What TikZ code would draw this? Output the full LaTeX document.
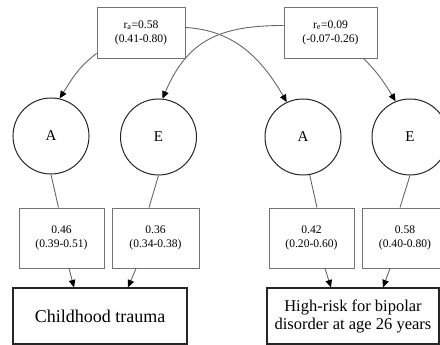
\documentclass[tikz,border=0pt]{standalone}
\usepackage{fontspec}
\setmainfont{Liberation Serif}
\usetikzlibrary{arrows.meta}

\begin{document}
\begin{tikzpicture}[x=1pt,y=1pt,>={Triangle[length=7.5pt,width=6.5pt,black]}]
  \tikzset{FactorStyle/.style = {circle, draw = black!85, line width = 1pt,
                                 minimum size = 76pt, inner sep = 0pt,
                                 font = \fontsize{15}{17}\selectfont}}
  \tikzset{LoadStyle/.style = {rectangle, draw = black!55, line width = 0.9pt,
                               minimum width = 86pt, minimum height = 60pt,
                               align = center,
                               font = \fontsize{11.6}{14}\selectfont}}
  \tikzset{CorrStyle/.style = {LoadStyle, minimum height = 51pt}}
  \tikzset{TraitStyle/.style = {rectangle, draw = black!85, line width = 1.1pt,
                                minimum height = 56pt, align = center,
                                font = \fontsize{16.5}{18}\selectfont}}
  \tikzset{EdgeStyle/.style = {draw = black!60, line width = 0.9pt}}
  \clip (0,0) rectangle (440,345);

  % correlations
  \node[CorrStyle, minimum width = 88pt] (ra) at (141,312.5)
       {r\textsubscript{a}=0.58\\(0.41-0.80)};
  \node[CorrStyle, minimum width = 93pt] (re) at (330.5,312.5)
       {r\textsubscript{e}=0.09\\(-0.07-0.26)};

  % latent factors
  \node[FactorStyle] (A1) at (51,209)    {A};
  \node[FactorStyle] (E1) at (158.5,208) {E};
  \node[FactorStyle] (A2) at (303,208)   {A};
  \node[FactorStyle] (E2) at (410,208)   {E};

  % path estimates
  \node[LoadStyle, minimum width = 85pt] (p1) at (61.5,107)  {0.46\\(0.39-0.51)};
  \node[LoadStyle, minimum width = 87pt] (p2) at (155.5,107) {0.36\\(0.34-0.38)};
  \node[LoadStyle, minimum width = 85pt] (p3) at (311.5,107) {0.42\\(0.20-0.60)};
  \node[LoadStyle, minimum width = 86pt] (p4) at (405,107)   {0.58\\(0.40-0.80)};

  % observed traits
  \node[TraitStyle, minimum width = 174pt, font = \fontsize{18}{20}\selectfont]
       (CT) at (100,29) {Childhood trauma};
  \node[TraitStyle, minimum width = 172pt] (HR) at (353,29)
       {High-risk for bipolar\\disorder at age 26 years};

  \draw[EdgeStyle,->] ([yshift=5pt]ra.south west) to[out=217,in=58] (A1.77);
  \draw[EdgeStyle,->] ([yshift=5pt]ra.east) to[out=-3,in=120] (A2.115);
  \draw[EdgeStyle,->] ([yshift=7pt]re.west) to[out=180,in=67,looseness=1.15] (E1.84);
  \draw[EdgeStyle,->] ([xshift=33pt]re.south) to[out=-45,in=121] (E2.112);

  \draw[EdgeStyle] (A1.south) -- ([xshift=-3pt]p1.north);
  \draw[EdgeStyle] (E1.south) -- ([xshift=-6.5pt]p2.north);
  \draw[EdgeStyle] (A2.-80)   -- ([xshift=5.5pt]p3.north);
  \draw[EdgeStyle] (E2.south) -- ([xshift=-5pt]p4.north);

  \draw[EdgeStyle,->] ([xshift=7.5pt]p1.south)  -- ([xshift=-26pt]CT.north);
  \draw[EdgeStyle,->] ([xshift=-19.5pt]p2.south) -- ([xshift=28pt]CT.north);
  \draw[EdgeStyle,->] ([xshift=13.5pt]p3.south) -- ([xshift=-22pt]HR.north);
  \draw[EdgeStyle,->] ([xshift=-15pt]p4.south)  -- ([xshift=30pt]HR.north);
\end{tikzpicture}
\end{document}
